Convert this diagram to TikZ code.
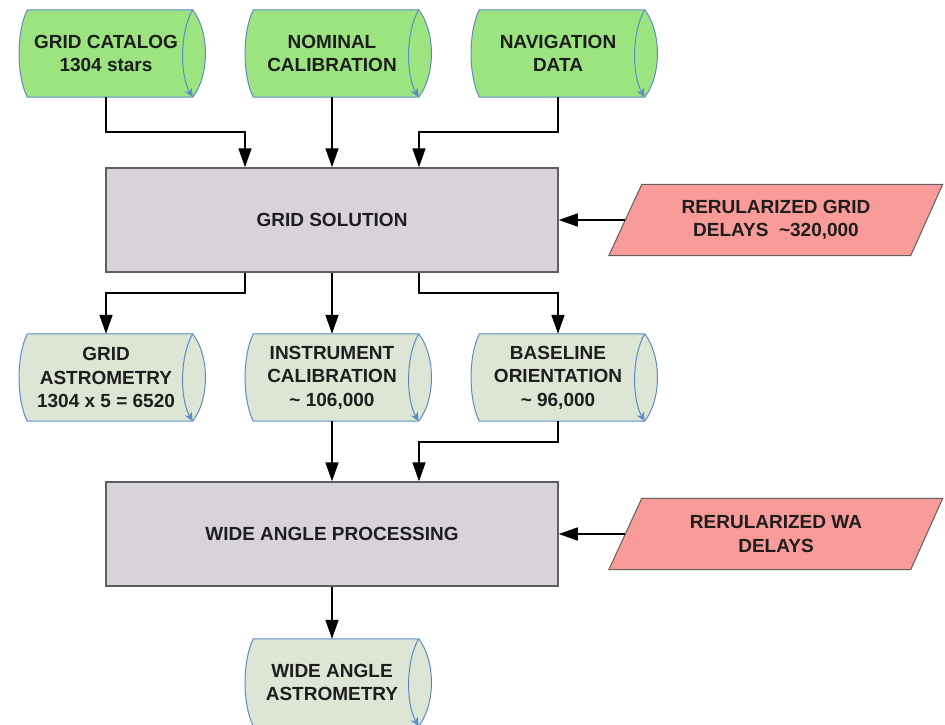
\documentclass[tikz,border=0pt]{standalone}
\usepackage{fontspec}
\setmainfont{Liberation Sans}
\usetikzlibrary{arrows.meta,backgrounds}
\definecolor{storeblue}{HTML}{5B8BCB}
\definecolor{inputgreen}{HTML}{9CE480}
\definecolor{outputgreen}{HTML}{DDE5D5}
\definecolor{procgray}{HTML}{D8D2DA}
\definecolor{procborder}{HTML}{5E5E5E}
\definecolor{delaypink}{HTML}{F99B98}
\definecolor{textdark}{HTML}{1E1E1E}
\tikzset{
  store/.style={minimum width=165pt, minimum height=87pt, inner sep=0pt, align=center,
    font=\fontsize{19}{23.5}\selectfont\bfseries, text=textdark},
  process/.style={draw=procborder, fill=procgray, line width=1.5pt, minimum width=452pt,
    minimum height=104pt, font=\fontsize{19}{23.5}\selectfont\bfseries, text=textdark},
  delay/.style={minimum width=301pt, minimum height=71pt, inner sep=0pt, align=center,
    font=\fontsize{19}{23.5}\selectfont\bfseries, text=textdark},
  flow/.style={line width=1.7pt, -{Triangle[length=19pt,width=13pt]}}
}
\newcommand{\storeshape}[2]{%
  \begin{scope}[on background layer]
    \filldraw[fill=#2, draw=storeblue, line width=1pt]
      ([xshift=4pt]#1.north west) .. controls +(-11,-22) and +(-11,22) .. ([xshift=4pt]#1.south west)
      -- ([xshift=4pt]#1.south east) .. controls +(17,22) and +(17,-22) .. ([xshift=4pt]#1.north east) -- cycle;
    \draw[storeblue, line width=1pt, -{Stealth[length=9pt,width=8pt]}]
      ([xshift=4pt]#1.north east) .. controls +(-13,-22) and +(-13,22) .. ([xshift=4pt]#1.south east);
  \end{scope}}
\newcommand{\delayshape}[1]{%
  \begin{scope}[on background layer]
    \filldraw[fill=delaypink, draw=procborder, line width=1pt]
      ([xshift=16.5pt]#1.north west) -- ([xshift=16pt]#1.north east)
      -- ([xshift=-16pt]#1.south east) -- ([xshift=-16.5pt]#1.south west) -- cycle;
  \end{scope}}
\begin{document}
\begin{tikzpicture}[x=1pt,y=1pt]
        \useasboundingbox (0,0) rectangle (945,-724);
        \node[store] (cat) at (106,-53.5) {GRID CATALOG\\1304 stars};
        \node[store] (nom) at (332,-53.5) {NOMINAL\\CALIBRATION};
        \node[store] (nav) at (558,-53.5) {NAVIGATION\\DATA};
        \storeshape{cat}{inputgreen}
        \storeshape{nom}{inputgreen}
        \storeshape{nav}{inputgreen}
        \node[process] (grid) at (332,-220) {GRID SOLUTION};
        \node[delay] (rgd) at (776,-220) {RERULARIZED GRID\\DELAYS\ \ \textasciitilde320,000};
        \delayshape{rgd}
        \node[store] (gast) at (106,-377.5) {GRID\\ASTROMETRY\\1304 x 5 = 6520};
        \node[store] (ical) at (332,-377.5) {INSTRUMENT\\CALIBRATION\\\textasciitilde\ 106,000};
        \node[store] (bori) at (558,-377.5) {BASELINE\\ORIENTATION\\\textasciitilde\ 96,000};
        \storeshape{gast}{outputgreen}
        \storeshape{ical}{outputgreen}
        \storeshape{bori}{outputgreen}
        \node[process] (wap) at (332,-534) {WIDE ANGLE PROCESSING};
        \node[delay] (rwd) at (776,-534) {RERULARIZED WA\\DELAYS};
        \delayshape{rwd}
        \node[store] (wast) at (332,-682.5) {WIDE ANGLE\\ASTROMETRY};
        \storeshape{wast}{outputgreen}
        \draw[flow] (cat.south) |- ([xshift=-87pt,yshift=35pt]grid.north) -- ([xshift=-87pt]grid.north);
        \draw[flow] (nom.south) -- (grid.north);
        \draw[flow] (nav.south) |- ([xshift=87pt,yshift=35pt]grid.north) -- ([xshift=87pt]grid.north);
        \draw[flow] (rgd.west) -- (grid.east);
        \draw[flow] ([xshift=-87pt]grid.south) |- ([yshift=41pt]gast.north) -- (gast.north);
        \draw[flow] (grid.south) -- (ical.north);
        \draw[flow] ([xshift=87pt]grid.south) |- ([yshift=41pt]bori.north) -- (bori.north);
        \draw[flow] (ical.south) -- (wap.north);
        \draw[flow] (bori.south) |- ([xshift=87pt,yshift=39pt]wap.north) -- ([xshift=87pt]wap.north);
        \draw[flow] (rwd.west) -- (wap.east);
        \draw[flow] (wap.south) -- (wast.north);
      \end{tikzpicture}
\end{document}
